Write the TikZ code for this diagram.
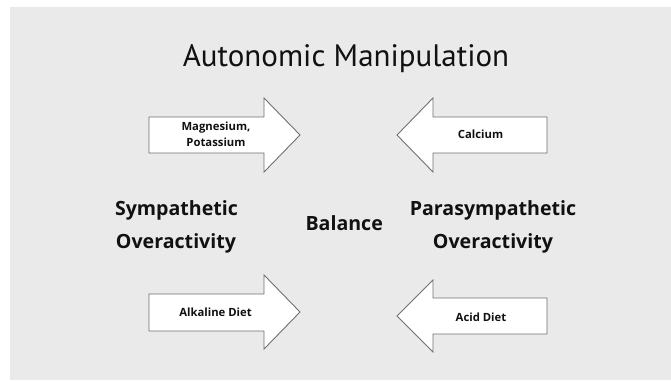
\documentclass[tikz,border=0pt]{standalone}
\usepackage{fontspec}
\setmainfont{PT Sans}
\newfontfamily\labfont{Open Sans}
\begin{document}
\begin{tikzpicture}[x=1pt,y=-1pt,
  bg/.style={fill=bgc,draw=none},
  arrowshape/.style={draw=linec,line width=0.9pt,fill=white,line join=miter},
  title/.style={font=\fontsize{31}{36}\selectfont,anchor=base,inner sep=0pt,text=txt},
  big/.style={font=\labfont\fontsize{19.6}{23}\selectfont\bfseries,anchor=base,inner sep=0pt,text=txt},
  small/.style={font=\labfont\fontsize{11.3}{14}\selectfont\bfseries,anchor=base,inner sep=0pt,text=txt}]
\definecolor{bgc}{RGB}{234,234,234}
\definecolor{linec}{RGB}{112,112,112}
\definecolor{txt}{RGB}{17,17,17}
\useasboundingbox (0,0) rectangle (671,380);
\fill[white] (0,0) rectangle (671,380);
\path[bg] (10,7) rectangle (671,380);
% arrows
\draw[arrowshape] (149,117) -- (264,117) -- (264,98) -- (300,135) -- (264,172) -- (264,153) -- (149,153) -- cycle;
\draw[arrowshape] (547,117) -- (433,117) -- (433,98) -- (397,135) -- (433,172) -- (433,153) -- (547,153) -- cycle;
\draw[arrowshape] (149,294) -- (264,294) -- (264,275) -- (300,312) -- (264,349) -- (264,331) -- (149,331) -- cycle;
\draw[arrowshape] (547,298) -- (433,298) -- (433,280) -- (397,316) -- (433,352) -- (433,334) -- (547,334) -- cycle;
% texts
\node[title] (t) at (346,66.7) {Autonomic Manipulation};
\node[big] (s1) at (176.5,215.7) {Sympathetic};
\node[big] (s2) at (176,248) {Overactivity};
\node[big] (b) at (344.2,230) {Balance};
\node[big] (p1) at (493,215) {Parasympathetic};
\node[big] (p2) at (493,248) {Overactivity};
\node[small] (m1) at (216,130.7) {Magnesium,};
\node[small] (m2) at (216,146) {Potassium};
\node[small] (c) at (480.5,138.7) {Calcium};
\node[small] (al) at (215.5,316.7) {Alkaline Diet};
\node[small] (ac) at (481,321) {Acid Diet};
\end{tikzpicture}
\end{document}
